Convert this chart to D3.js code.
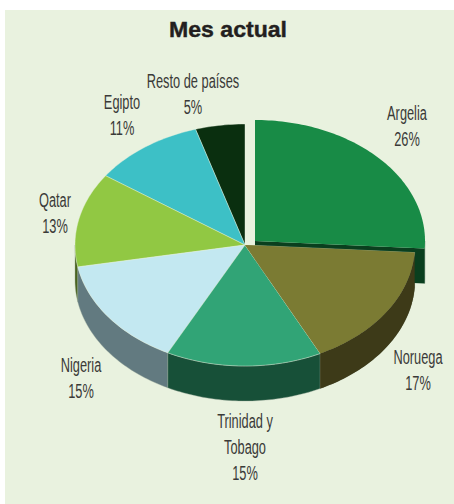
<!DOCTYPE html>
<html><head><meta charset="utf-8">
<script src="https://cdn.jsdelivr.net/npm/d3@7/dist/d3.min.js"></script>
<style>html,body{margin:0;padding:0;background:#fff}svg{display:block}</style></head>
<body><svg id="c" width="454" height="504"></svg>
<script>
const countries=["Argelia","Noruega","Trinidad y Tobago","Nigeria","Qatar","Egipto","Resto de países"];
const shares=[26,16.7,14.8,14.6,12.6,10.6,4.7];
const percentLabels=["26%","17%","15%","15%","13%","11%","5%"];
const topColors=["#188b46","#7b7b33","#31a476","#c3e8f1","#91c843","#3dc0c6","#0a2f0f"];
const sideColors=["#0a3f1e","#3d3a18","#175038","#627a80","#4a6420","#1f6266","#051808"];
const labelLines=[["Argelia","26%"],["Noruega","17%"],["Trinidad y","Tobago","15%"],["Nigeria","15%"],["Qatar","13%"],["Egipto","11%"],["Resto de países","5%"]];
const labelX=[407,418,245,81,55,122,193];
const labelY=[120,364,428,372,207,109,88];

const W=454,H=504,cx=245,cy=245,rx=170,ry=121,depth=35;
const exDx=10,exDy=-4;
const svg=d3.select("#c");
svg.append("rect").attr("x",5).attr("y",10).attr("width",W-5).attr("height",H-10).attr("fill","#e9f2df");

const data=d3.pie().sort(null).value((d,i)=>d)(shares);
const xS=d3.scaleLinear().domain([-1,1]).range([-rx,rx]);
const yS=d3.scaleLinear().domain([-1,1]).range([-ry,ry]);
const px=a=>xS(Math.sin(a)), py=a=>yS(-Math.cos(a));
const sliceOff=i=>i===0?[exDx,exDy]:[0,0];

function arcPts(a0,a1){const n=Math.max(2,Math.ceil((a1-a0)/0.02));
  return d3.range(n+1).map(k=>{const a=a0+(a1-a0)*k/n;return [px(a),py(a)];});}
const line=d3.line();
const g=svg.append("g").attr("transform",`translate(${cx},${cy})`);

// outer side walls: only the front half (pi/2..3pi/2) is visible
const wallOrder=[4,3,2,1,0];
wallOrder.forEach(i=>{
  const d=data[i],[ox,oy]=sliceOff(i);
  const a0=Math.max(d.startAngle,Math.PI/2),a1=Math.min(d.endAngle,Math.PI*1.5);
  if(a1<=a0) return;
  const upper=arcPts(a0,a1);
  const lower=upper.slice().reverse().map(p=>[p[0],p[1]+depth]);
  g.append("path").attr("d",line(upper.concat(lower))+"Z")
   .attr("transform",`translate(${ox},${oy})`)
   .attr("fill",sideColors[i]).attr("stroke","#9aa89a").attr("stroke-width",0.4);
});
// cut face of the pulled-out slice
{
  const d=data[0],[ox,oy]=sliceOff(0);
  const e=[px(d.endAngle),py(d.endAngle)];
  g.append("path").attr("d",line([[0,0],e,[e[0],e[1]+depth],[0,depth]])+"Z")
   .attr("transform",`translate(${ox},${oy})`).attr("fill",sideColors[0]);
}
// top faces
data.slice().reverse().forEach((d,ri)=>{
  const i=data.length-1-ri,[ox,oy]=sliceOff(i);
  g.append("path").attr("d",line([[0,0]].concat(arcPts(d.startAngle,d.endAngle)))+"Z")
   .attr("transform",`translate(${ox},${oy})`)
   .attr("fill",topColors[i]).attr("stroke","#e9f2df").attr("stroke-width",i===0?0:0.4);
});
// Noruega over Argelia's cut face
{
  const d=data[1];
  g.append("path").attr("d",line([[0,0]].concat(arcPts(d.startAngle,d.endAngle)))+"Z")
   .attr("fill",topColors[1]);
  const a0=d.startAngle,a1=Math.min(d.endAngle,Math.PI*1.5);
  const upper=arcPts(a0,a1);
  g.append("path").attr("d",line(upper.concat(upper.slice().reverse().map(p=>[p[0],p[1]+depth])))+"Z").attr("fill",sideColors[1]);
}

// labels
labelLines.forEach((lines,i)=>{
  lines.forEach((t,k)=>{
    svg.append("text").text(t)
      .attr("transform",`translate(${labelX[i]},${labelY[i]+k*26}) scale(0.64,1)`)
      .attr("text-anchor","middle")
      .attr("font-family","'Liberation Sans','DejaVu Sans',sans-serif")
      .attr("font-size",20).attr("fill","#3a3a38");
  });
});
svg.append("text").text("Mes actual")
  .attr("transform","translate(228,37) scale(1.05,1)").attr("text-anchor","middle")
  .attr("font-family","'Liberation Sans',Arial,sans-serif")
  .attr("font-weight","bold").attr("font-size",22).attr("fill","#231f20")
  .attr("stroke","#231f20").attr("stroke-width",0.4);
</script></body></html>
